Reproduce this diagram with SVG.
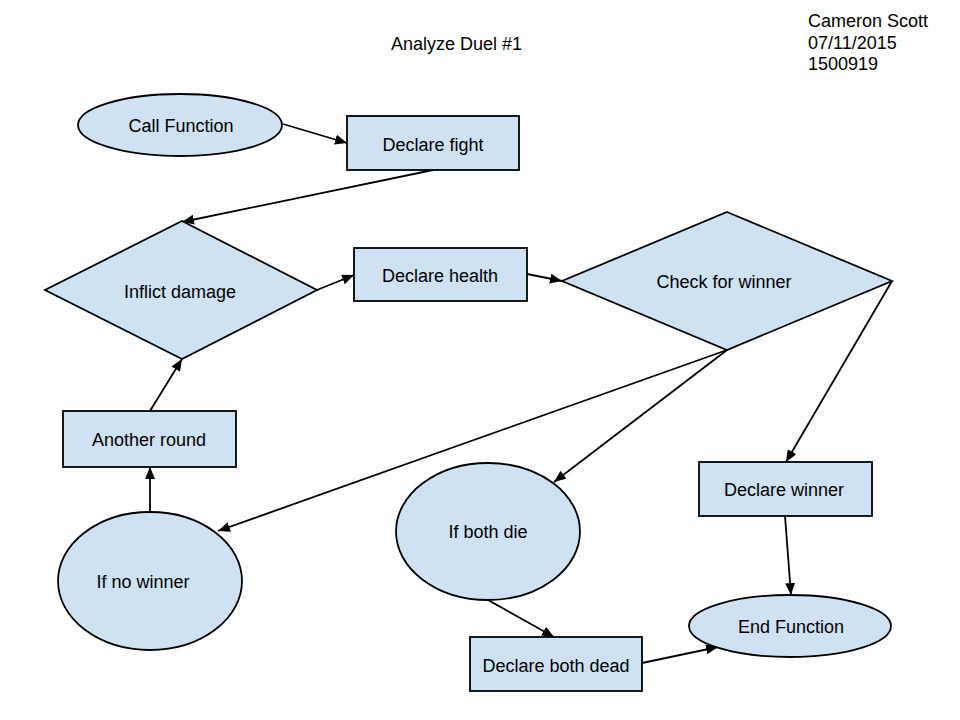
<svg xmlns="http://www.w3.org/2000/svg" width="960" height="720" viewBox="0 0 960 720">
<defs>
<marker id="arr" markerUnits="userSpaceOnUse" markerWidth="14" markerHeight="12" refX="12" refY="5" orient="auto">
<path d="M0,0 L12,5 L0,10 Z" fill="#000"/>
</marker>
<style>
.shape{fill:#cfe2f3;stroke:#000;stroke-width:1.8}
.lbl{font-family:"Liberation Sans",Arial,sans-serif;font-size:18px;fill:#000;text-anchor:middle}
.hdr{font-family:"Liberation Sans",Arial,sans-serif;font-size:18px;fill:#000}
.conn{fill:none;stroke:#000;stroke-width:1.8;marker-end:url(#arr)}
</style>
</defs>
<rect width="960" height="720" fill="#fff"/>
<text class="hdr" x="391" y="50">Analyze Duel #1</text>
<text class="hdr" x="808" y="27">Cameron Scott</text>
<text class="hdr" x="808" y="49">07/11/2015</text>
<text class="hdr" x="808" y="70">1500919</text>
<g id="connectors">
<line class="conn" x1="283" y1="124" x2="347" y2="143"/>
<line class="conn" x1="433" y1="170" x2="182" y2="222"/>
<line class="conn" x1="317" y1="290" x2="354" y2="275"/>
<line class="conn" x1="527" y1="274" x2="562" y2="281"/>
<line class="conn" x1="892" y1="281" x2="786" y2="462"/>
<line class="conn" x1="727" y1="350" x2="554" y2="482"/>
<line class="conn" x1="727" y1="350" x2="218" y2="531"/>
<line class="conn" x1="488" y1="600" x2="554" y2="637"/>
<line class="conn" x1="785" y1="516" x2="791" y2="595"/>
<line class="conn" x1="642" y1="663" x2="718" y2="647"/>
<line class="conn" x1="150" y1="512" x2="150" y2="467"/>
<line class="conn" x1="150" y1="411" x2="182" y2="359"/>
</g>
<g id="call-function">
<ellipse class="shape" cx="180" cy="125" rx="102" ry="31"/>
<text class="lbl" x="181" y="132">Call Function</text>
</g>
<g id="declare-fight">
<rect class="shape" x="347" y="116" width="172" height="54"/>
<text class="lbl" x="433" y="151">Declare fight</text>
</g>
<g id="inflict-damage">
<polygon class="shape" points="182,221 317,290 182,359 45,290"/>
<text class="lbl" x="180" y="298">Inflict damage</text>
</g>
<g id="declare-health">
<rect class="shape" x="354" y="248" width="173" height="53"/>
<text class="lbl" x="440" y="282">Declare health</text>
</g>
<g id="check-for-winner">
<polygon class="shape" points="727,212 892,281 727,350 562,281"/>
<text class="lbl" x="724" y="288">Check for winner</text>
</g>
<g id="another-round">
<rect class="shape" x="63" y="411" width="173" height="56"/>
<text class="lbl" x="149" y="446">Another round</text>
</g>
<g id="if-no-winner">
<ellipse class="shape" cx="150" cy="581" rx="92" ry="69"/>
<text class="lbl" x="143" y="588">If no winner</text>
</g>
<g id="if-both-die">
<ellipse class="shape" cx="488" cy="531.5" rx="92" ry="68.5"/>
<text class="lbl" x="488" y="538">If both die</text>
</g>
<g id="declare-winner">
<rect class="shape" x="699" y="462" width="173" height="54"/>
<text class="lbl" x="784" y="496">Declare winner</text>
</g>
<g id="declare-both-dead">
<rect class="shape" x="470" y="637" width="172" height="54"/>
<text class="lbl" x="556" y="672">Declare both dead</text>
</g>
<g id="end-function">
<ellipse class="shape" cx="790" cy="626" rx="101" ry="31"/>
<text class="lbl" x="791" y="633">End Function</text>
</g>
</svg>
